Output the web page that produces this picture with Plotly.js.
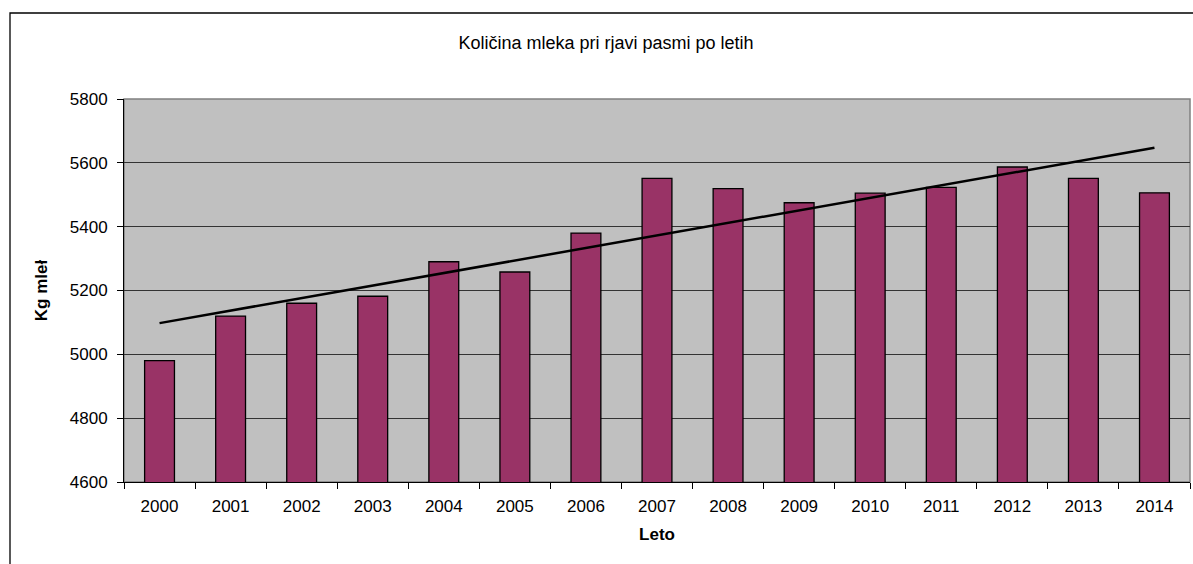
<!DOCTYPE html>
<html>
<head>
<meta charset="utf-8">
<script src="https://cdn.plot.ly/plotly-3.0.1.min.js"></script>
<style>html,body{margin:0;padding:0;background:#fff;}#chart{width:1193px;height:564px;}</style>
</head>
<body>
<div id="chart"></div>
<script>
const years = ["2000","2001","2002","2003","2004","2005","2006","2007","2008","2009","2010","2011","2012","2013","2014"];
const milkKg = [4980, 5120, 5160, 5182, 5290, 5258, 5380, 5551, 5519, 5475, 5505, 5523, 5587, 5551, 5506];
const yTicks = [4600, 4800, 5000, 5200, 5400, 5600, 5800];

// Linear trendline (least squares), as in the original spreadsheet chart
const n = milkKg.length;
const idx = milkKg.map((_, i) => i);
const mx = idx.reduce((a, b) => a + b, 0) / n;
const my = milkKg.reduce((a, b) => a + b, 0) / n;
let sxy = 0, sxx = 0;
idx.forEach((i) => { sxy += (i - mx) * (milkKg[i] - my); sxx += (i - mx) * (i - mx); });
const slope = sxy / sxx;
const intercept = my - slope * mx;
const trendX = [years[0], years[n - 1]];
const trendY = [intercept, intercept + slope * (n - 1)];

const font = {family: "Liberation Sans, Arial, sans-serif", size: 17, color: "#000"};

const data = [
  {type: "bar", x: years, y: milkKg, marker: {color: "#993366", line: {color: "#000", width: 1.3}}, hoverinfo: "x+y"},
  {type: "scatter", mode: "lines", x: trendX, y: trendY, line: {color: "#000", width: 2.5}, hoverinfo: "skip"}
];

const layout = {
  width: 1193, height: 564,
  margin: {l: 124, r: 3, t: 99, b: 82},
  paper_bgcolor: "#fff",
  plot_bgcolor: "#C0C0C0",
  showlegend: false,
  bargap: 0.58,
  font: font,
  title: {text: "Količina mleka pri rjavi pasmi po letih", font: {family: font.family, size: 18, color: "#000"}, xref: "container", x: 0.508, xanchor: "center", yref: "container", y: 0.925, yanchor: "middle"},
  xaxis: {
    type: "category",
    showline: true, linecolor: "#000", linewidth: 1,
    ticks: "outside", ticklen: 6, tickcolor: "#000", tickson: "boundaries",
    ticklabelstandoff: 9,
    showgrid: false, zeroline: false,
    tickfont: font,
    title: {text: "<b>Leto</b>", font: font, standoff: 12}
  },
  yaxis: {
    range: [4600, 5800], tickvals: yTicks, ticktext: yTicks.map(String),
    showline: true, linecolor: "#000", linewidth: 1,
    ticks: "outside", ticklen: 6, tickcolor: "#000",
    ticklabelstandoff: 6,
    showgrid: true, gridcolor: "#333", gridwidth: 1, zeroline: false,
    tickfont: font,
    title: {text: "<b>Kg mleł</b>", font: font, standoff: 17}
  },
  shapes: [
    {type: "rect", xref: "paper", yref: "paper", x0: 0, x1: 1, y0: 0, y1: 1, line: {color: "#808080", width: 1.5}, fillcolor: "rgba(0,0,0,0)", layer: "below"},
    {type: "rect", xref: "paper", yref: "paper", x0: (10 - 124) / 1066, x1: 1.05, y0: -0.4, y1: (482 - 13) / 383, line: {color: "#000", width: 1.3}, fillcolor: "rgba(0,0,0,0)"}
  ]
};

Plotly.newPlot("chart", data, layout, {displayModeBar: false, staticPlot: true});
</script>
</body>
</html>
